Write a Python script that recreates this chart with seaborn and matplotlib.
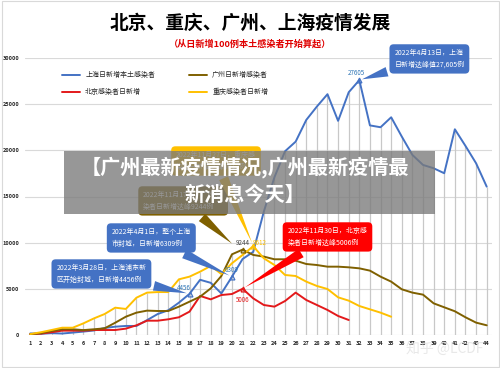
# 北京、重庆、广州、上海疫情发展 - recreated with seaborn
import numpy as np
import pandas as pd
import matplotlib.pyplot as plt
import seaborn as sns
from matplotlib.patches import Rectangle

# --------------------------------
# Data
# --------------------------------
shanghai = [170, 130, 200, 160, 260, 370, 490, 760, 900, 980,
            980, 1610, 2270, 2680, 3500, 4456, 5980, 5650, 4500, 6309,
            8230, 9000, 13350, 17080, 19900, 20940, 23290, 24740, 26080, 23190,
            26290, 27605, 22700, 22500, 23580, 21490, 19500, 18420, 18060, 17520,
            22280, 20480, 18600, 16070]
guangzhou = [80, 200, 430, 620, 620, 530, 620, 720, 1330, 1980,
             2420, 2640, 2600, 2600, 3070, 3610, 4150, 5050, 6390, 8740,
             9244, 8670, 8490, 8200, 8200, 8050, 7690, 7580, 7400, 7400,
             7330, 7220, 6970, 6320, 5780, 4950, 4590, 4370, 3430, 3000,
             2570, 1920, 1340, 1050]
beijing = [100, 150, 300, 470, 470, 470, 540, 540, 540, 690,
           1050, 1550, 1550, 1700, 1920, 2530, 4230, 3860, 4330, 4440,
           5006, 3970, 3250, 3070, 3680, 4590, 3790, 3250, 2710, 2060,
           1625]
chongqing = [100, 300, 540, 790, 790, 1260, 1800, 2270, 2960, 2820,
             4040, 4590, 4650, 4650, 6030, 6320, 6860, 7480, 6610, 7770,
             8670, 9612, 8310, 7580, 6500, 6390, 5780, 5310, 4980, 4080,
             3720, 3140, 2780, 2420, 1980]

names = ["上海日新增本土感染者", "北京感染者日新增", "广州日新增感染者", "重庆感染者日新增"]
colors = ["#4472C4", "#E3191B", "#7F6000", "#FFC000"]
series = [shanghai, beijing, guangzhou, chongqing]

rows = []
for name, vals in zip(names, series):
    for i, v in enumerate(vals):
        rows.append({"day": i + 1, "cases": v, "city": name})
df = pd.DataFrame(rows)

# --------------------------------
# Style
# --------------------------------
sns.set_style("white")
plt.rcParams["font.family"] = ["Noto Sans CJK SC", "DejaVu Sans"]

fig = plt.figure(figsize=(5, 3.68), dpi=100)
ax = fig.add_axes([25 / 500, 33 / 368, 467 / 500, 277 / 368])

# drop lines from the highest series down to the axis
top = df.groupby("day")["cases"].max()
ax.vlines(top.index, 0, top.values, color="#C8C8C8", lw=0.9, zorder=1)

sns.lineplot(data=df, x="day", y="cases", hue="city", hue_order=names,
             palette=colors, lw=1.4, ax=ax, zorder=3)

ax.set_xlim(0.5, 44.5)
ax.set_ylim(0, 30000)
ax.set_xticks(range(1, 45))
ax.set_xticklabels([str(i) for i in range(1, 45)], fontsize=4, fontweight="bold")
ax.set_yticks(range(0, 30001, 5000))
ax.set_yticklabels([str(i) for i in range(0, 30001, 5000)], fontsize=4, fontweight="bold")
ax.tick_params(length=0, pad=4)
ax.yaxis.grid(True, color="#D9D9D9", lw=0.8)
ax.set_axisbelow(True)
ax.set_xlabel("")
ax.set_ylabel("")
for s in ax.spines.values():
    s.set_visible(False)

sns.move_legend(ax, "upper left", bbox_to_anchor=(0.065, 0.975), ncol=2,
                frameon=False, title=None, fontsize=5, handlelength=2.6,
                columnspacing=4.8, labelspacing=1.3)

# --------------------------------
# Markers & value labels
# --------------------------------
marks = [
    (32, shanghai[31], "#4472C4", "27605", "#2E75B6", (-2, 5)),
    (16, shanghai[15], "#4472C4", "4456", "#2E75B6", (-4, 4)),
    (20, shanghai[19], "#4472C4", "6309", "#2E75B6", (0, 5)),
    (21, guangzhou[20], "#7F6000", "9244", "#404040", (0, 5)),
    (22, chongqing[21], "#FFC000", "9612", "#FFC000", (5, 2)),
    (21, beijing[20], "#E3191B", "5006", "#E3191B", (0, -8)),
]
for d, v, mc, lab, tc, off in marks:
    ax.plot(d, v, marker="^", ms=3.5, mfc="none", mec=mc, mew=0.9, zorder=4)
    ax.annotate(lab, (d, v), xytext=off, textcoords="offset points",
                ha="center", va="center", fontsize=4.5, color=tc, zorder=5)

# --------------------------------
# Callouts
# --------------------------------
callouts = [
    ("2022年4月13日，上海\n日新增达峰值27,605例", (32, shanghai[31]), (38.6, 29900), "#4472C4"),
    ("2022年11月17日，广州感\n染者日新增达峰9244例", (20.2, 9700), (15.4, 14520), "#7F6000"),
    ("2022年11月27日，重庆感\n染者日新增达峰9612例", (22, 9700), (18.5, 18850), "#FFC000"),
    ("2022年4月1日，整个上海\n市封城，日新增6309例", (20, shanghai[19]), (12.4, 10510), "#4472C4"),
    ("2022年3月28日，上海浦东新\n区开始封城，日新增4456例", (16, shanghai[15]), (7.7, 6610), "#4472C4"),
    ("2022年11月30日，北京感\n染者日新增达峰5006例", (21, beijing[20]), (29.0, 10620), "#FF0000"),
]
for txt, xy, xyt, c in callouts:
    ax.annotate(txt, xy=xy, xytext=xyt, textcoords="data", ha="center", va="center",
                multialignment="left", fontsize=5, color="white", linespacing=1.6,
                bbox=dict(boxstyle="round,pad=0.7,rounding_size=0.6", fc=c, ec="none"),
                arrowprops=dict(arrowstyle="wedge,tail_width=1.4,shrink_factor=0.5",
                                fc=c, ec="none"),
                zorder=6, annotation_clip=False)

# --------------------------------
# Titles
# --------------------------------
fig.text(0.5, 1 - 23 / 368, "北京、重庆、广州、上海疫情发展", ha="center", va="center",
         fontsize=13.5, fontweight="bold", color="black")
fig.text(0.5, 1 - 44 / 368, "（从日新增100例本土感染者开始算起）", ha="center", va="center",
         fontsize=6.6, fontweight="bold", color="#E00000")

# overlay banner
fig.patches.append(Rectangle((64 / 500, 1 - 214 / 368), 371 / 500, 63 / 368,
                             transform=fig.transFigure, fc="#7A7A7A", alpha=0.78,
                             ec="none", zorder=10))
fig.text(245 / 500, 1 - 181 / 368, "【广州最新疫情情况,广州最新疫情最\n新消息今天】",
         ha="center", va="center", fontsize=14.5, fontweight="bold", color="white",
         linespacing=1.35, zorder=11)

# watermark
fig.text(445 / 500, 1 - 350 / 368, "知乎 @LCDF", ha="center", va="center",
         fontsize=10, color="#E6E6E6", alpha=0.9, zorder=11)

# outer frame
fig.patches.append(Rectangle((0.003, 0.003), 0.994, 0.994, transform=fig.transFigure,
                             fc="none", ec="#D9D9D9", lw=0.8))

fig.savefig("out.png", dpi=100)
